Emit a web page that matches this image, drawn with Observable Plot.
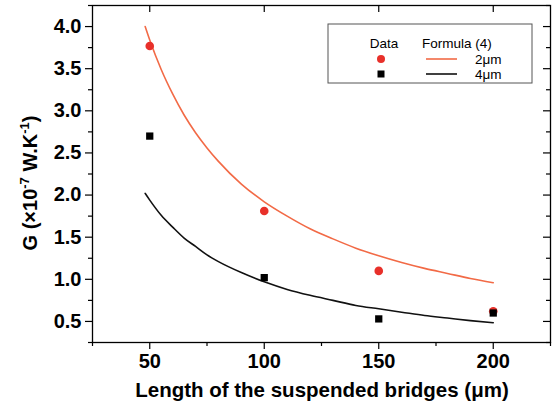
<!DOCTYPE html>
<html><head><meta charset="utf-8">
<script src="https://cdn.jsdelivr.net/npm/d3@7"></script>
<script src="https://cdn.jsdelivr.net/npm/@observablehq/plot@0.6"></script>
<style>body{margin:0;background:#fff} svg{font-family:"Liberation Sans",Arial,sans-serif}</style>
</head><body><div id="chart"></div>
<script>
// measured data
const lengths = [50, 100, 150, 200];
const data2um = [3.77, 1.81, 1.10, 0.62];
const data4um = [2.70, 1.02, 0.53, 0.60];
// formula (4) curves
const curveL = [48, 50, 55, 60, 65, 70, 75, 80, 90, 100, 110, 120, 130, 140, 150, 160, 170, 180, 190, 200];
const fit2um = [4.0, 3.84, 3.49, 3.2, 2.95, 2.74, 2.56, 2.4, 2.13, 1.92, 1.75, 1.6, 1.48, 1.37, 1.28, 1.2, 1.13, 1.07, 1.01, 0.96];
const fit4um = [2.02, 1.94, 1.76, 1.62, 1.49, 1.39, 1.29, 1.21, 1.08, 0.97, 0.88, 0.81, 0.75, 0.69, 0.65, 0.61, 0.57, 0.54, 0.51, 0.485];
// ticks
const xMajor = [50, 100, 150, 200];
const xMinor = [25, 75, 125, 175, 225];
const yMajor = [0.5, 1.0, 1.5, 2.0, 2.5, 3.0, 3.5, 4.0];
const yMinor = [0.25, 0.75, 1.25, 1.75, 2.25, 2.75, 3.25, 3.75, 4.25];

const W = 555, H = 416, mL = 92, mR = 5, mT = 5, mB = 74;
const iw = W - mL - mR, ih = H - mT - mB;
const pts2 = lengths.map((L, i) => ({L, G: data2um[i]}));
const pts4 = lengths.map((L, i) => ({L, G: data4um[i]}));
const c2 = curveL.map((L, i) => ({L, G: fit2um[i]}));
const c4 = curveL.map((L, i) => ({L, G: fit4um[i]}));
const font = "'Liberation Sans', Arial, sans-serif";

const chart = Plot.plot({
  width: W, height: H,
  marginLeft: mL, marginRight: mR, marginTop: mT, marginBottom: mB,
  style: {fontFamily: font, background: "white", color: "black"},
  x: {domain: [25, 225]},
  y: {domain: [0.25, 4.25]},
  marks: [
    Plot.axisX(xMajor, {tickSize: 7, tickPadding: 4, fontSize: 20, fontWeight: "bold", label: null, tickFormat: d => String(d), strokeWidth: 1.2}),
    Plot.axisX(xMinor, {tickSize: 4, text: null, label: null, strokeWidth: 1.2}),
    Plot.axisY(yMajor, {tickSize: 7, tickPadding: 4, fontSize: 20, fontWeight: "bold", label: null, tickFormat: d => d.toFixed(1), strokeWidth: 1.2}),
    Plot.axisY(yMinor, {tickSize: 4, text: null, label: null, strokeWidth: 1.2}),
    Plot.tickX(xMajor, {x: d => d, insetBottom: ih - 7, stroke: "black", strokeWidth: 1.2}),
    Plot.tickY(yMajor, {y: d => d, insetLeft: iw - 7, stroke: "black", strokeWidth: 1.2}),
    Plot.tickY(yMinor, {y: d => d, insetLeft: iw - 4, stroke: "black", strokeWidth: 1.2}),
    Plot.frame({stroke: "black", strokeWidth: 1.3}),
    Plot.line(c2, {x: "L", y: "G", stroke: "#f26a46", strokeWidth: 1.6, curve: "monotone-x"}),
    Plot.line(c4, {x: "L", y: "G", stroke: "#111", strokeWidth: 1.6, curve: "monotone-x"}),
    Plot.dot(pts2, {x: "L", y: "G", r: 4.3, fill: "#e8302a", stroke: "none"}),
    Plot.dot(pts4, {x: "L", y: "G", r: 4.1, symbol: "square", fill: "black", stroke: "none"})
  ]
});
document.getElementById("chart").appendChild(chart);

const svg = d3.select(chart);
// axis titles
svg.append("text")
  .attr("x", 322).attr("y", 397)
  .attr("text-anchor", "middle")
  .attr("font-size", 20.5).attr("font-weight", "bold").attr("fill", "black")
  .text("Length of the suspended bridges (μm)");

const yt = svg.append("text")
  .attr("transform", "translate(37,183) rotate(-90)")
  .attr("text-anchor", "middle")
  .attr("font-size", 20).attr("font-weight", "bold").attr("fill", "black");
yt.append("tspan").text("G (×10");
yt.append("tspan").attr("dy", -8).attr("font-size", 13).text("-7");
yt.append("tspan").attr("dy", 8).text(" W.K");
yt.append("tspan").attr("dy", -8).attr("font-size", 13).text("-1");
yt.append("tspan").attr("dy", 8).text(")");

// legend
const lg = svg.append("g").attr("font-size", 13.5).attr("fill", "black").attr("text-anchor", "start");
lg.append("rect").attr("x", 328).attr("y", 24).attr("width", 204).attr("height", 59)
  .attr("fill", "white").attr("stroke", "#555").attr("stroke-width", 1);
lg.append("text").attr("x", 384).attr("y", 48).attr("text-anchor", "middle").text("Data");
lg.append("text").attr("x", 422).attr("y", 48).attr("text-anchor", "start").text("Formula (4)");
lg.append("circle").attr("cx", 381).attr("cy", 59).attr("r", 4).attr("fill", "#e8302a");
lg.append("rect").attr("x", 377.5).attr("y", 70.5).attr("width", 7).attr("height", 7).attr("fill", "black");
lg.append("line").attr("x1", 426).attr("x2", 457).attr("y1", 59).attr("y2", 59).attr("stroke", "#f26a46").attr("stroke-width", 1.6);
lg.append("line").attr("x1", 426).attr("x2", 457).attr("y1", 74).attr("y2", 74).attr("stroke", "#111").attr("stroke-width", 1.6);
lg.append("text").attr("x", 475).attr("y", 64).attr("text-anchor", "start").text("2μm");
lg.append("text").attr("x", 475).attr("y", 79).attr("text-anchor", "start").text("4μm");
</script></body></html>
